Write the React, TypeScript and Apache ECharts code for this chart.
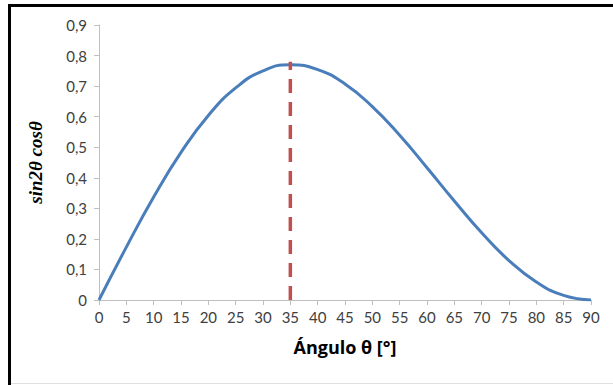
import React, { useEffect, useRef } from "react";
import * as echarts from "echarts";

const angles = [0, 5, 10, 15, 20, 25, 30, 35, 40, 45, 50, 55, 60, 65, 70, 75, 80, 85, 90];
const values = [0, 0.173, 0.337, 0.483, 0.604, 0.694, 0.75, 0.77, 0.754, 0.707, 0.633, 0.539, 0.433, 0.324, 0.22, 0.129, 0.059, 0.015, 0];
const markerX = [35, 35];
const markerY = [0, 0.78];
const xTitle = "Ángulo θ [°]";
const yTitle = "sin2θ cosθ";

export default function App() {
  const ref = useRef<HTMLDivElement>(null);
  useEffect(() => {
    if (!ref.current) return;
    const chart = echarts.init(ref.current, null, { renderer: "svg" });
    const labelFont = { color: "#404040", fontSize: 15, fontFamily: "Lato" };
    chart.setOption({
      animation: false,
      backgroundColor: "#ffffff",
      grid: { left: 99, right: 22, top: 25, bottom: 85 },
      xAxis: {
        type: "value",
        min: 0,
        max: 90,
        interval: 5,
        name: xTitle,
        nameLocation: "middle",
        nameGap: 38,
        nameTextStyle: { color: "#000", fontSize: 18, fontWeight: "bold", fontFamily: "Open Sans" },
        axisLine: { lineStyle: { color: "#bfbfbf", width: 1 } },
        axisTick: { show: true, length: 5, lineStyle: { color: "#bfbfbf" } },
        axisLabel: { ...labelFont, margin: 9 },
        splitLine: { show: false },
      },
      yAxis: {
        type: "value",
        min: 0,
        max: 0.9,
        interval: 0.1,
        name: yTitle,
        nameLocation: "middle",
        nameGap: 54,
        nameRotate: 90,
        nameTextStyle: { color: "#000", fontSize: 19, fontWeight: "bold", fontStyle: "italic", fontFamily: "Liberation Serif" },
        axisLine: { show: true, lineStyle: { color: "#bfbfbf", width: 1 } },
        axisTick: { show: true, length: 5, lineStyle: { color: "#bfbfbf" } },
        axisLabel: {
          ...labelFont,
          margin: 12,
          formatter: (v: number) => (Math.round(v * 10) / 10).toString().replace(".", ","),
        },
        splitLine: { show: false },
      },
      series: [
        {
          type: "line",
          data: angles.map((a, i) => [a, values[i]]),
          smooth: 0.5,
          showSymbol: false,
          lineStyle: { color: "#4a7ebb", width: 3 },
        },
        {
          type: "line",
          data: markerX.map((a, i) => [a, markerY[i]]),
          showSymbol: false,
          lineStyle: { color: "#c0504d", width: 3.5, type: [14, 9] },
          z: 3,
        },
      ],
      graphic: [
        { type: "rect", shape: { x: 8, y: 4, width: 605, height: 3 }, style: { fill: "#000" } },
        { type: "rect", shape: { x: 8, y: 4, width: 3, height: 381 }, style: { fill: "#000" } },
        { type: "rect", shape: { x: 11, y: 383, width: 602, height: 1 }, style: { fill: "#e0e0e0" } },
      ],
    });
    return () => chart.dispose();
  }, []);
  return (
    <div
      ref={ref}
      style={{ position: "fixed", left: 0, top: 0, width: 613, height: 385 }}
    />
  );
}
